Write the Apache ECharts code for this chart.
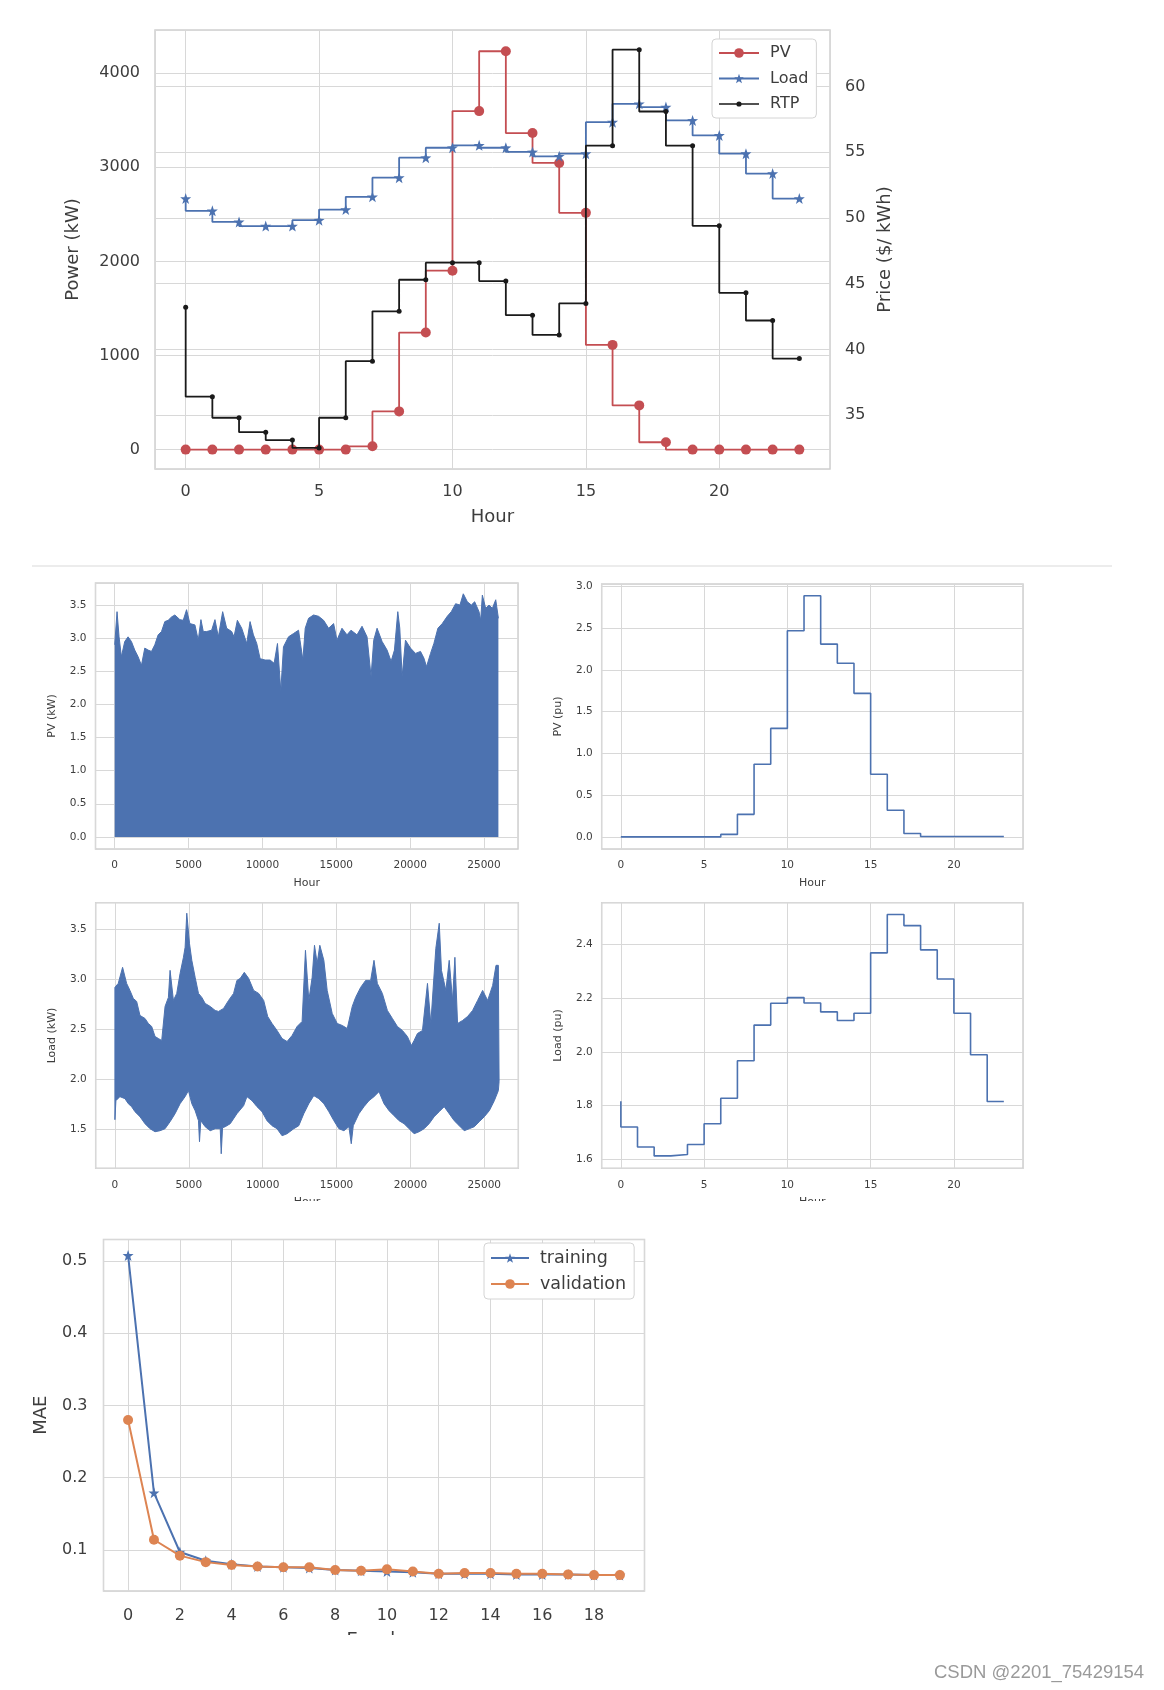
<!DOCTYPE html>
<html><head><meta charset="utf-8">
<script src="https://cdn.jsdelivr.net/npm/echarts@6/dist/echarts.min.js"></script>
<style>html,body{margin:0;padding:0;background:#fff}#c{width:1164px;height:1690px}</style>
</head><body><div id="c"></div>
<script>
// ---------- data ----------
const hours = [0,1,2,3,4,5,6,7,8,9,10,11,12,13,14,15,16,17,18,19,20,21,22,23];
const pvKW   = [0,0,0,0,0,0,0,35,406,1244,1901,3597,4233,3364,3046,2516,1113,470,78,0,0,0,0,0];
const loadKW = [2668,2537,2420,2375,2375,2438,2551,2686,2890,3102,3208,3233,3208,3163,3117,3145,3480,3675,3640,3498,3339,3145,2933,2668];
const rtp    = [43.2,36.4,34.8,33.7,33.1,32.5,34.8,39.1,42.9,45.3,46.6,46.6,45.2,42.6,41.1,43.5,55.5,62.8,58.1,55.5,49.4,44.3,42.2,39.3];
const pvPU   = [0,0,0,0,0,0,0,0.03,0.27,0.87,1.30,2.47,2.89,2.31,2.08,1.72,0.75,0.32,0.04,0.005,0.005,0.005,0.005,0.005];
const loadPU = [1.817,1.721,1.647,1.614,1.619,1.656,1.733,1.828,1.967,2.099,2.180,2.201,2.181,2.148,2.116,2.143,2.367,2.509,2.468,2.378,2.270,2.143,1.989,1.816];
const epochs = [0,1,2,3,4,5,6,7,8,9,10,11,12,13,14,15,16,17,18,19];
const training   = [0.508,0.179,0.097,0.085,0.080,0.077,0.076,0.075,0.072,0.071,0.070,0.069,0.067,0.067,0.067,0.066,0.066,0.066,0.065,0.065];
const validation = [0.280,0.114,0.092,0.083,0.079,0.077,0.076,0.076,0.072,0.071,0.073,0.070,0.067,0.068,0.068,0.067,0.067,0.066,0.065,0.065];
// hourly PV (kW) series over ~3 years: upper envelope [hour, kW]
const pvEnvelope = [[0,2.90],[158,3.40],[294,3.02],[452,2.72],[679,2.95],[905,3.02],[1131,2.95],[1357,2.82],[1584,2.72],[1810,2.59],[2036,2.85],[2262,2.82],[2489,2.80],[2715,2.90],[2941,3.05],[3167,3.10],[3394,3.25],[3620,3.27],[3846,3.32],[4072,3.35],[4412,3.28],[4638,3.27],[4864,3.43],[5090,3.22],[5430,3.20],[5656,2.97],[5837,3.28],[5995,3.10],[6222,3.10],[6561,3.12],[6787,3.28],[7014,3.02],[7308,3.40],[7579,3.15],[7918,3.10],[8077,3.02],[8303,3.27],[8597,3.15],[8937,2.92],[9163,3.25],[9389,3.05],[9615,2.92],[9842,2.69],[10181,2.67],[10520,2.67],[10792,2.62],[11018,2.92],[11244,2.20],[11425,2.87],[11765,3.02],[12104,3.07],[12443,3.12],[12738,2.67],[12896,3.15],[13122,3.30],[13461,3.35],[13801,3.33],[14140,3.27],[14480,3.15],[14819,3.22],[15045,2.97],[15384,3.15],[15724,3.05],[15995,3.12],[16402,3.05],[16742,3.18],[17081,3.02],[17353,2.42],[17534,2.97],[17760,3.15],[18099,2.95],[18439,2.82],[18710,2.65],[18936,2.82],[19163,3.40],[19298,3.15],[19457,2.42],[19683,2.97],[20022,2.85],[20362,2.77],[20701,2.80],[20928,2.70],[21109,2.57],[21380,2.77],[21606,2.92],[21878,3.15],[22172,3.22],[22511,3.33],[22783,3.40],[23077,3.52],[23371,3.50],[23597,3.67],[23869,3.55],[24140,3.50],[24366,3.55],[24661,3.40],[24774,3.27],[24887,3.65],[25113,3.45],[25339,3.50],[25565,3.45],[25792,3.58],[25973,3.30]];
// hourly load (kW): upper and lower envelopes [hour, kW]
const loadUpper = [[0,2.92],[226,2.96],[520,3.12],[792,2.96],[1018,2.89],[1244,2.81],[1471,2.78],[1697,2.64],[2036,2.61],[2262,2.56],[2489,2.53],[2715,2.43],[2941,2.41],[3167,2.39],[3394,2.73],[3620,2.82],[3733,3.09],[3959,2.79],[4185,2.86],[4412,3.06],[4638,3.22],[4751,3.32],[4864,3.66],[5045,3.36],[5204,3.19],[5430,3.02],[5656,2.86],[5882,2.82],[6108,2.76],[6448,2.73],[6787,2.69],[7013,2.68],[7353,2.71],[7692,2.79],[8032,2.86],[8258,2.99],[8484,3.01],[8756,3.07],[9050,3.01],[9389,2.89],[9728,2.86],[10068,2.79],[10339,2.63],[10633,2.56],[10973,2.49],[11312,2.41],[11651,2.38],[11991,2.44],[12330,2.53],[12669,2.58],[12896,3.29],[13122,2.79],[13348,3.02],[13507,3.34],[13688,3.16],[13868,3.34],[14140,3.19],[14366,2.89],[14706,2.66],[15045,2.56],[15384,2.54],[15724,2.51],[16063,2.73],[16289,2.82],[16629,2.92],[16968,2.99],[17307,2.99],[17534,3.19],[17760,2.96],[18099,2.86],[18439,2.69],[18778,2.61],[19117,2.53],[19457,2.49],[19796,2.43],[20067,2.34],[20248,2.39],[20475,2.46],[20814,2.49],[21153,2.96],[21380,2.56],[21719,3.31],[21950,3.56],[22100,3.09],[22398,2.89],[22624,3.19],[22850,2.79],[23009,3.22],[23190,2.56],[23529,2.59],[23868,2.63],[24208,2.69],[24547,2.79],[24886,2.89],[25226,2.79],[25565,2.94],[25791,3.14],[25950,3.14],[26000,1.98]];
const loadLower = [[0,1.60],[68,1.79],[339,1.83],[679,1.81],[905,1.76],[1131,1.73],[1357,1.68],[1697,1.63],[2036,1.56],[2375,1.51],[2715,1.48],[3054,1.49],[3394,1.51],[3733,1.58],[4072,1.66],[4412,1.76],[4751,1.83],[4977,1.89],[5204,1.76],[5430,1.69],[5656,1.59],[5724,1.38],[5814,1.59],[6108,1.53],[6448,1.49],[6787,1.51],[7127,1.51],[7195,1.26],[7285,1.52],[7466,1.53],[7805,1.56],[8258,1.66],[8710,1.74],[8936,1.83],[9276,1.79],[9615,1.73],[9955,1.68],[10294,1.59],[10633,1.54],[10973,1.51],[11312,1.44],[11651,1.46],[12104,1.51],[12443,1.54],[12783,1.66],[13122,1.76],[13461,1.84],[13801,1.81],[14140,1.76],[14480,1.68],[14819,1.59],[15158,1.51],[15497,1.49],[15837,1.53],[15995,1.36],[16131,1.54],[16516,1.66],[16855,1.73],[17194,1.79],[17534,1.83],[17873,1.88],[18212,1.76],[18552,1.69],[18891,1.64],[19230,1.59],[19570,1.56],[19909,1.51],[20248,1.46],[20588,1.48],[20927,1.51],[21266,1.56],[21606,1.63],[21945,1.68],[22285,1.73],[22624,1.66],[22963,1.59],[23303,1.54],[23642,1.49],[23981,1.51],[24321,1.53],[24660,1.58],[25000,1.63],[25339,1.69],[25678,1.79],[25950,1.89],[26000,1.98]];

// ---------- style ----------
const FONT = 'DejaVu Sans';
const TXT = '#3d3d3d';
const GRIDC = '#d8d8d8';
const BLUE = '#4C72B0', RED = '#C44E52', ORANGE = '#DD8452', BLACK = '#1a1a1a';
const STAR = 'path://M0,-10L2.35,-3.24L9.51,-3.09L3.8,1.24L5.88,8.09L0,4L-5.88,8.09L-3.8,1.24L-9.51,-3.09L-2.35,-3.24Z';
// legend icon for RTP: thin line with a small dot (tiny corner triangles fix the 40x12 box)
const SMALLDOT_ICON = 'path://M0,0L0.01,0L0,0.01Z M39.99,12L40,12L40,11.99Z M0,5.2L40,5.2L40,6.8L0,6.8Z M22.6,6A2.6,2.6,0,1,1,17.4,6A2.6,2.6,0,1,1,22.6,6Z';

function tickFmt(step, dec) {
  return function (v) {
    const r = v / step;
    return Math.abs(r - Math.round(r)) < 1e-6 ? v.toFixed(dec) : '';
  };
}
function axis(o) {
  return {
    type: 'value', gridIndex: o.grid, position: o.pos, min: o.min, max: o.max,
    minInterval: o.step, maxInterval: o.step, splitNumber: 5,
    axisLine: { show: false }, axisTick: { show: false },
    splitLine: { show: true, lineStyle: { color: GRIDC, width: 1 } },
    axisLabel: { color: TXT, fontSize: o.fs, margin: o.margin, fontFamily: FONT, formatter: tickFmt(o.step, o.dec) },
    name: o.name || '', nameLocation: 'middle', nameGap: o.gap || 0,
    nameTextStyle: { color: TXT, fontSize: o.nfs, fontFamily: FONT }
  };
}
function gridBox(l, t, w, h) {
  return { left: l, top: t, width: w, height: h, show: true, borderColor: '#cfcfcf', borderWidth: 1.5, backgroundColor: 'transparent' };
}

const chart = echarts.init(document.getElementById('c'), null, { renderer: 'canvas' });
const option = {
  animation: false,
  backgroundColor: '#fff',
  textStyle: { fontFamily: FONT },
  grid: [
    gridBox(155, 30, 675, 439),
    gridBox(95.5, 583, 422.5, 266),
    gridBox(601.7, 584, 421.3, 265),
    gridBox(95.7, 902.7, 422.6, 265.6),
    gridBox(601.7, 902.7, 421.3, 265.6),
    gridBox(103.5, 1239.5, 541, 351.5)
  ],
  xAxis: [
    axis({ grid: 0, min: -1.15, max: 24.15, step: 5, dec: 0, fs: 16, margin: 15, name: 'Hour', gap: 39, nfs: 18 }),
    axis({ grid: 1, min: -1300, max: 27300, step: 5000, dec: 0, fs: 10.5, margin: 11, name: 'Hour', gap: 29, nfs: 11 }),
    axis({ grid: 2, min: -1.15, max: 24.15, step: 5, dec: 0, fs: 10.5, margin: 11, name: 'Hour', gap: 29, nfs: 11 }),
    axis({ grid: 3, min: -1300, max: 27300, step: 5000, dec: 0, fs: 10.5, margin: 11, name: 'Hour', gap: 28, nfs: 11 }),
    axis({ grid: 4, min: -1.15, max: 24.15, step: 5, dec: 0, fs: 10.5, margin: 11, name: 'Hour', gap: 28, nfs: 11 }),
    axis({ grid: 5, min: -0.95, max: 19.95, step: 2, dec: 0, fs: 16, margin: 17, name: 'Epoch', gap: 40, nfs: 18 })
  ],
  yAxis: [
    axis({ grid: 0, pos: 'left', min: -206, max: 4459, step: 1000, dec: 0, fs: 16, margin: 15, name: 'Power (kW)', gap: 73, nfs: 18 }),
    axis({ grid: 0, pos: 'right', min: 30.9, max: 64.3, step: 5, dec: 0, fs: 16, margin: 15, name: 'Price ($/ kWh)', gap: 43, nfs: 18 }),
    axis({ grid: 1, min: -0.183, max: 3.833, step: 0.5, dec: 1, fs: 10.5, margin: 9, name: 'PV (kW)', gap: 38, nfs: 11 }),
    axis({ grid: 2, min: -0.145, max: 3.03, step: 0.5, dec: 1, fs: 10.5, margin: 9, name: 'PV (pu)', gap: 38, nfs: 11 }),
    axis({ grid: 3, min: 1.115, max: 3.765, step: 0.5, dec: 1, fs: 10.5, margin: 9, name: 'Load (kW)', gap: 38, nfs: 11 }),
    axis({ grid: 4, min: 1.568, max: 2.553, step: 0.2, dec: 1, fs: 10.5, margin: 9, name: 'Load (pu)', gap: 38, nfs: 11 }),
    axis({ grid: 5, min: 0.043, max: 0.53, step: 0.1, dec: 1, fs: 16, margin: 16, name: 'MAE', gap: 53, nfs: 18 })
  ],
  legend: [
    {
      data: ['PV', 'Load', { name: 'RTP', icon: SMALLDOT_ICON }], orient: 'vertical', left: 712, top: 39,
      itemWidth: 40, itemHeight: 12, itemGap: 9.5,
      padding: [6, 8, 6, 6], backgroundColor: '#fff', borderColor: '#d4d4d4', borderWidth: 1, borderRadius: 4,
      textStyle: { color: TXT, fontSize: 16, fontFamily: FONT, padding: [0, 0, 0, 6] }
    },
    {
      data: ['training', 'validation'], orient: 'vertical', left: 484, top: 1243,
      itemWidth: 38, itemHeight: 12, itemGap: 8,
      padding: [6, 8, 6, 6], backgroundColor: '#fff', borderColor: '#d4d4d4', borderWidth: 1, borderRadius: 4,
      textStyle: { color: TXT, fontSize: 17.5, fontFamily: FONT, padding: [0, 0, 0, 6] }
    }
  ],
  series: [
    { name: 'PV', type: 'line', xAxisIndex: 0, yAxisIndex: 0, step: 'start',
      data: hours.map((h, i) => [h, pvKW[i]]), symbol: 'circle', symbolSize: 10,
      itemStyle: { color: RED }, lineStyle: { color: RED, width: 1.8 }, z: 3 },
    { name: 'Load', type: 'line', xAxisIndex: 0, yAxisIndex: 0, step: 'start',
      data: hours.map((h, i) => [h, loadKW[i]]), symbol: STAR, symbolSize: 11,
      itemStyle: { color: BLUE }, lineStyle: { color: BLUE, width: 1.8 }, z: 4 },
    { name: 'RTP', type: 'line', xAxisIndex: 0, yAxisIndex: 1, step: 'start',
      data: hours.map((h, i) => [h, rtp[i]]), symbol: 'circle', symbolSize: 5,
      itemStyle: { color: BLACK }, lineStyle: { color: BLACK, width: 1.8 }, z: 5 },
    { type: 'line', xAxisIndex: 1, yAxisIndex: 2, data: pvEnvelope, showSymbol: false, symbol: 'none',
      lineStyle: { color: BLUE, width: 1 }, areaStyle: { color: BLUE, opacity: 1 }, z: 3 },
    { type: 'line', xAxisIndex: 2, yAxisIndex: 3, step: 'start', data: hours.map((h, i) => [h, pvPU[i]]),
      symbol: 'none', lineStyle: { color: BLUE, width: 1.6 }, z: 3 },
    { type: 'custom', xAxisIndex: 3, yAxisIndex: 4, coordinateSystem: 'cartesian2d',
      data: [[loadUpper[0][0], loadUpper[0][1]]], encode: { x: 0, y: 1 }, silent: true, z: 3,
      renderItem: function (params, api) {
        const pts = [];
        for (let i = 0; i < loadUpper.length; i++) pts.push(api.coord(loadUpper[i]));
        for (let i = loadLower.length - 1; i >= 0; i--) pts.push(api.coord(loadLower[i]));
        return { type: 'polygon', shape: { points: pts }, style: { fill: BLUE, stroke: BLUE, lineWidth: 1 } };
      } },
    { type: 'line', xAxisIndex: 4, yAxisIndex: 5, step: 'start', data: hours.map((h, i) => [h, loadPU[i]]),
      symbol: 'none', lineStyle: { color: BLUE, width: 1.6 }, z: 3 },
    { name: 'training', type: 'line', xAxisIndex: 5, yAxisIndex: 6, data: epochs.map((e, i) => [e, training[i]]),
      symbol: STAR, symbolSize: 11, itemStyle: { color: BLUE }, lineStyle: { color: BLUE, width: 2 }, z: 3 },
    { name: 'validation', type: 'line', xAxisIndex: 5, yAxisIndex: 6, data: epochs.map((e, i) => [e, validation[i]]),
      symbol: 'circle', symbolSize: 10, itemStyle: { color: ORANGE }, lineStyle: { color: ORANGE, width: 2 }, z: 4 }
  ],
  graphic: [
    { type: 'line', shape: { x1: 32, y1: 566, x2: 1112, y2: 566 }, style: { stroke: '#d9d9d9', lineWidth: 1 }, z: 1 },
    { type: 'rect', shape: { x: 30, y: 1201, width: 1010, height: 35 }, style: { fill: '#fff' }, z: 100 },
    { type: 'rect', shape: { x: 90, y: 1635, width: 580, height: 30 }, style: { fill: '#fff' }, z: 100 },
    { type: 'text', left: 934, top: 1663, z: 100,
      style: { text: 'CSDN @2201_75429154', fill: '#9a9a9a', font: '18.5px "Liberation Sans", Arial, sans-serif' } }
  ]
};
chart.setOption(option);
</script></body></html>
